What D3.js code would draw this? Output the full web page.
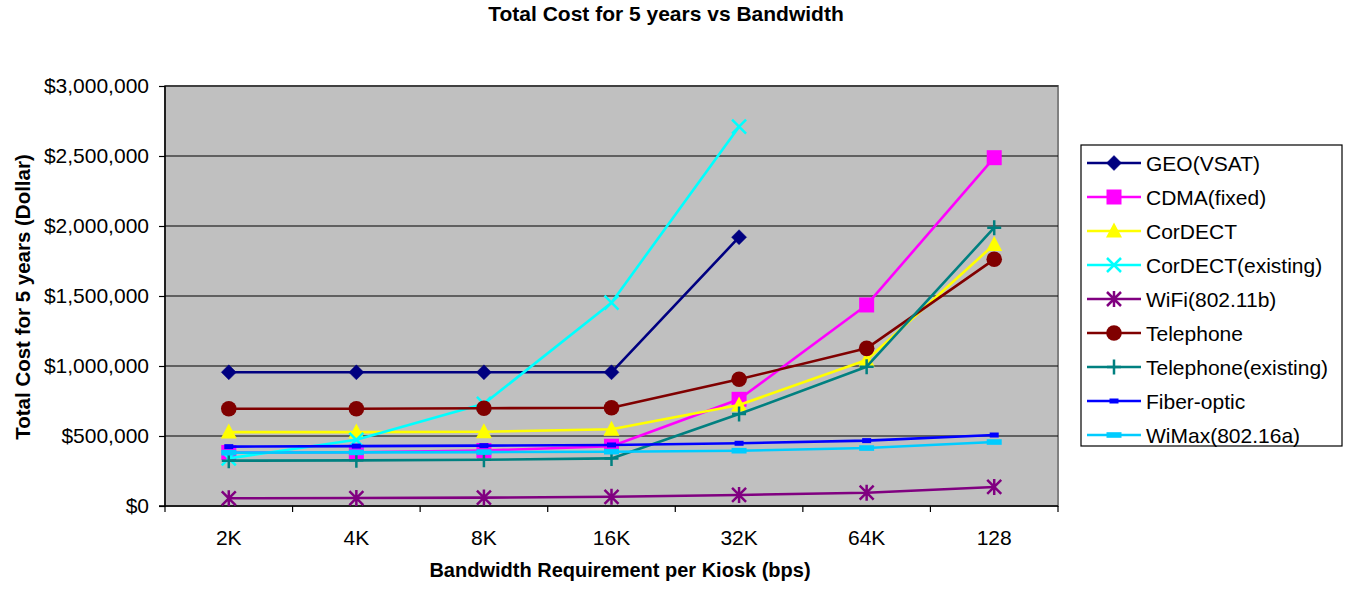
<!DOCTYPE html>
<html>
<head>
<meta charset="utf-8">
<script src="https://cdn.jsdelivr.net/npm/d3@7"></script>
<style>
  html, body { margin: 0; padding: 0; background: #fff; }
  svg { display: block; font-family: "Liberation Sans", Arial, sans-serif; }
</style>
</head>
<body>
<svg id="chart" width="1348" height="589"></svg>
<script>
// Bandwidth categories (bps per kiosk)
const categories = ["2K", "4K", "8K", "16K", "32K", "64K", "128"];

// Total cost for 5 years, in dollars, per technology
const geoVsat          = [955000, 955000, 955000, 955000, 1920000, null, null];
const cdmaFixed        = [382000, 384000, 396000, 427000, 762000, 1436000, 2488000];
const corDect          = [528000, 528000, 530000, 548000, 721000, 1043000, 1868000];
const corDectExisting  = [340000, 473000, 730000, 1452000, 2709000, null, null];
const wifi             = [55000, 57000, 60000, 66000, 79000, 95000, 136000];
const telephone        = [695000, 695000, 698000, 702000, 905000, 1126000, 1762000];
const telephoneExisting= [324000, 326000, 330000, 340000, 657000, 995000, 1988000];
const fiberOptic       = [424000, 428000, 431000, 436000, 448000, 467000, 507000];
const wimax            = [381000, 383000, 385000, 388000, 395000, 414000, 457000];

const yTicks = [0, 500000, 1000000, 1500000, 2000000, 2500000, 3000000];

const seriesNames = ["GEO(VSAT)", "CDMA(fixed)", "CorDECT", "CorDECT(existing)", "WiFi(802.11b)",
                     "Telephone", "Telephone(existing)", "Fiber-optic", "WiMax(802.16a)"];
const seriesValues = [geoVsat, cdmaFixed, corDect, corDectExisting, wifi,
                      telephone, telephoneExisting, fiberOptic, wimax];
const seriesColors = ["#000080", "#FF00FF", "#FFFF00", "#00FFFF", "#800080",
                      "#800000", "#008080", "#0000FF", "#00CCFF"];
const seriesMarkers = ["diamond", "square", "triangle", "x", "star", "circle", "plus", "smallbar", "widebar"];

// ---- layout
const plot = { left: 165, right: 1058, top: 86, bottom: 506 };
const svg = d3.select("#chart");

const x = d3.scaleBand().domain(categories).range([plot.left, plot.right]);
const y = d3.scaleLinear().domain([0, 3000000]).range([plot.bottom, plot.top]);

// ---- marker shapes
function drawMarker(g, kind, color, cx, cy) {
  switch (kind) {
    case "diamond":
      g.append("path").attr("d", `M${cx},${cy-7.5}L${cx+7.5},${cy}L${cx},${cy+7.5}L${cx-7.5},${cy}Z`)
        .attr("fill", color).attr("stroke", color).attr("stroke-width", 0.5);
      break;
    case "square":
      g.append("rect").attr("x", cx-7.5).attr("y", cy-7.5).attr("width", 15).attr("height", 15)
        .attr("fill", color);
      break;
    case "triangle":
      g.append("path").attr("d", `M${cx},${cy-8.5}L${cx+8},${cy+6.5}L${cx-8},${cy+6.5}Z`)
        .attr("fill", color);
      break;
    case "circle":
      g.append("circle").attr("cx", cx).attr("cy", cy).attr("r", 7.8).attr("fill", color);
      break;
    case "x":
      g.append("path").attr("d", `M${cx-7},${cy-7}L${cx+7},${cy+7}M${cx+7},${cy-7}L${cx-7},${cy+7}`)
        .attr("stroke", color).attr("stroke-width", 2.5).attr("fill", "none");
      break;
    case "star":
      g.append("path").attr("d", `M${cx-7},${cy-7}L${cx+7},${cy+7}M${cx+7},${cy-7}L${cx-7},${cy+7}M${cx},${cy-8}L${cx},${cy+8}`)
        .attr("stroke", color).attr("stroke-width", 2.5).attr("fill", "none");
      break;
    case "plus":
      g.append("path").attr("d", `M${cx-7},${cy}L${cx+7},${cy}M${cx},${cy-7.5}L${cx},${cy+7.5}`)
        .attr("stroke", color).attr("stroke-width", 2.5).attr("fill", "none");
      break;
    case "smallbar":
      g.append("rect").attr("x", cx-4.5).attr("y", cy-2.5).attr("width", 9).attr("height", 5).attr("fill", color);
      break;
    case "widebar":
      g.append("rect").attr("x", cx-7.5).attr("y", cy-2.8).attr("width", 15).attr("height", 5.6).attr("fill", color);
      break;
  }
}

// ---- plot area
svg.append("rect")
  .attr("x", plot.left).attr("y", plot.top)
  .attr("width", plot.right - plot.left).attr("height", plot.bottom - plot.top)
  .attr("fill", "#C0C0C0").attr("stroke", "#808080").attr("stroke-width", 2);

// horizontal gridlines
svg.append("g").selectAll("line").data(yTicks.slice(1)).join("line")
  .attr("x1", plot.left).attr("x2", plot.right)
  .attr("y1", d => y(d)).attr("y2", d => y(d))
  .attr("stroke", "#000").attr("stroke-width", 1.2);

// y axis
const yAxis = d3.axisLeft(y).tickValues(yTicks).tickSize(6).tickPadding(10)
  .tickFormat(d => "$" + d3.format(",")(d));
const gy = svg.append("g").attr("transform", `translate(${plot.left},0)`).call(yAxis);
gy.select(".domain").attr("stroke", "#000").attr("stroke-width", 1.5).attr("d", `M-6,${plot.bottom}H0V${plot.top}`);
gy.selectAll(".tick line").attr("stroke", "#000").attr("stroke-width", 1.2);
gy.selectAll("text").attr("font-size", 21).attr("fill", "#000")
  .attr("font-family", "'Liberation Sans', Arial, sans-serif");

// x axis: ticks sit between categories
const gx = svg.append("g").attr("transform", `translate(0,${plot.bottom})`);
gx.append("line").attr("x1", plot.left).attr("x2", plot.right).attr("y1", 0).attr("y2", 0)
  .attr("stroke", "#000").attr("stroke-width", 1.5);
const boundaries = categories.map(c => x(c)).concat([plot.right]);
gx.selectAll("line.tk").data(boundaries).join("line").attr("class", "tk")
  .attr("x1", d => d).attr("x2", d => d).attr("y1", 0).attr("y2", 6)
  .attr("stroke", "#000").attr("stroke-width", 1.2);
gx.selectAll("text").data(categories).join("text")
  .attr("x", d => x(d) + x.bandwidth() / 2).attr("y", 39)
  .attr("text-anchor", "middle").attr("font-size", 21).text(d => d);

// ---- series lines and markers
const line = d3.line()
  .defined(d => d.v != null)
  .x(d => x(d.c) + x.bandwidth() / 2)
  .y(d => y(d.v));

seriesValues.forEach((vals, i) => {
  const pts = vals.map((v, j) => ({ c: categories[j], v }));
  const g = svg.append("g");
  g.append("path").datum(pts).attr("d", line)
    .attr("fill", "none").attr("stroke", seriesColors[i]).attr("stroke-width", 2.6)
    .attr("stroke-linejoin", "round");
  pts.filter(p => p.v != null).forEach(p => {
    drawMarker(g, seriesMarkers[i], seriesColors[i], x(p.c) + x.bandwidth() / 2, y(p.v));
  });
});

// ---- titles
svg.append("text").attr("x", 666).attr("y", 21).attr("text-anchor", "middle")
  .attr("font-size", 21).attr("font-weight", "bold").text("Total Cost for 5 years vs Bandwidth");

svg.append("text").attr("x", 620).attr("y", 577).attr("text-anchor", "middle")
  .attr("font-size", 20).attr("font-weight", "bold").text("Bandwidth Requirement per Kiosk (bps)");

svg.append("text").attr("transform", `translate(30,297) rotate(-90)`).attr("text-anchor", "middle")
  .attr("font-size", 20.5).attr("font-weight", "bold").text("Total Cost for 5 years (Dollar)");

// ---- legend
const legend = svg.append("g");
legend.append("rect").attr("x", 1081).attr("y", 145).attr("width", 261).attr("height", 301)
  .attr("fill", "#fff").attr("stroke", "#000").attr("stroke-width", 1.2);
seriesNames.forEach((name, i) => {
  const cy = 163 + i * 34;
  legend.append("line").attr("x1", 1087).attr("x2", 1141).attr("y1", cy).attr("y2", cy)
    .attr("stroke", seriesColors[i]).attr("stroke-width", 2.6);
  drawMarker(legend, seriesMarkers[i], seriesColors[i], 1114, cy);
  legend.append("text").attr("x", 1146).attr("y", cy + 7.5).attr("font-size", 21).text(name);
});
</script>
</body>
</html>
